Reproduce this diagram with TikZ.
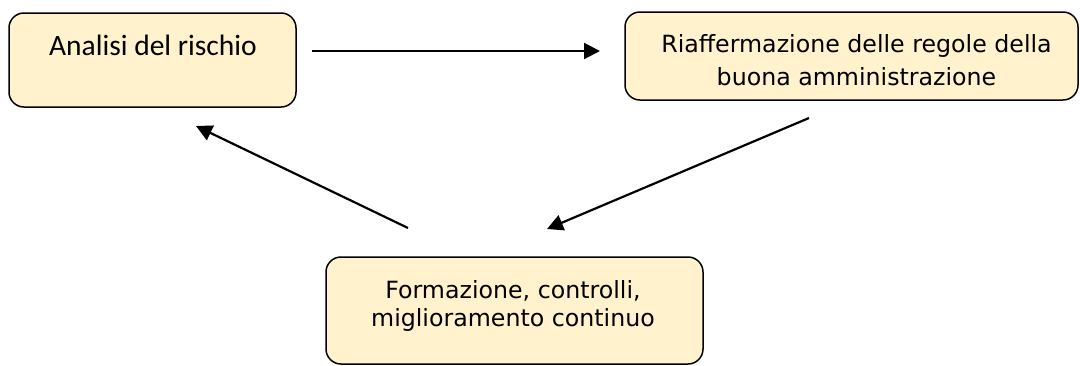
\documentclass[tikz,border=0pt]{standalone}
\usepackage{fontspec}
\setmainfont{DejaVu Sans}
\newfontfamily\calfont{Carlito}
\definecolor{boxfill}{HTML}{FFF2CC}
\tikzset{
  stepbox/.style={draw=black, line width=1.5pt, fill=boxfill, rounded corners=15pt},
  lbl/.style={anchor=base, inner sep=0pt, font=\fontsize{23.7}{28}\selectfont},
  lblc/.style={anchor=base, inner sep=0pt, font=\calfont\fontsize{29.5}{34}\selectfont},
  conn/.style={line width=2.2pt, -{Triangle[length=16pt,width=16pt]}}
}
\usetikzlibrary{arrows.meta}
\begin{document}
\begin{tikzpicture}[x=1pt,y=-1pt]
\useasboundingbox (0,0) rectangle (1080,365);
% boxes
\draw[stepbox] (9,13) rectangle (296,107);
\draw[stepbox] (625,12) rectangle (1078,100);
\draw[stepbox] (326,257) rectangle (703,364);
% texts
\node[lblc] (t1) at (153,55) {Analisi del rischio};
\node[lbl] (t2a) at (856.5,52) {Riaffermazione delle regole della};
\node[lbl] (t2b) at (856.5,85) {buona amministrazione};
\node[lbl] (t3a) at (513,298) {Formazione, controlli,};
\node[lbl] (t3b) at (513,326) {miglioramento continuo};
% connector ends
\coordinate (a1s) at (312,51);
\coordinate (a1e) at (600,51);
\coordinate (a2s) at (809,118);
\coordinate (a2e) at (547,229);
\coordinate (a3s) at (408,228);
\coordinate (a3e) at (196,126);
\draw[conn] (a1s) -- (a1e);
\draw[conn] (a2s) -- (a2e);
\draw[conn] (a3s) -- (a3e);
\end{tikzpicture}
\end{document}
